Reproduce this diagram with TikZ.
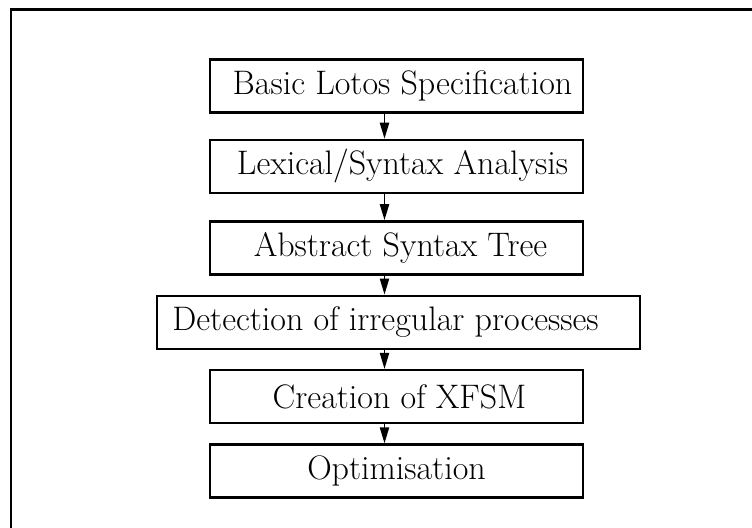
\documentclass[tikz,border=0pt]{standalone}
\usetikzlibrary{positioning,arrows.meta}

\begin{document}
\begin{tikzpicture}[
    node distance=12.5pt,
    stage/.style={rectangle, draw, line width=1.2pt, minimum width=186.5pt, minimum height=26.5pt, inner sep=0pt, align=center, font=\fontsize{17}{20}\selectfont},
    arrow/.style={-{Triangle[length=8pt,width=4.6pt]}, line width=0.8pt}
]
\clip (0,0) rectangle (376pt,-263.5pt);
\draw[line width=1.3pt] (5.5pt,-4.6pt) rectangle (400pt,-300pt);

\node[stage] (basic) at (198.25pt,-43pt) {\hspace*{6pt}Basic Lotos Specification};
\node[stage, below=of basic] (lexical) {\hspace*{6pt}Lexical/Syntax Analysis};
\node[stage, below=13pt of lexical] (ast) {\hspace*{4pt}Abstract Syntax Tree};
\node[stage, below=9.5pt of ast, xshift=1pt, minimum width=241.5pt] (detect) {Detection of irregular processes\hspace*{13pt}};
\node[stage, below=9.5pt of detect, xshift=-1pt] (xfsm) {\hspace*{3pt}Creation of XFSM};
\node[stage, below=9.5pt of xfsm] (optim) {Optimisation};

\draw[arrow] ([xshift=-6pt]basic.south) -- ([xshift=-6pt]lexical.north);
\draw[arrow] ([xshift=-6pt]lexical.south) -- ([xshift=-6pt]ast.north);
\draw[arrow] ([xshift=-6pt]ast.south) -- ([xshift=-7pt]detect.north);
\draw[arrow] ([xshift=-7pt]detect.south) -- ([xshift=-6pt]xfsm.north);
\draw[arrow] ([xshift=-6pt]xfsm.south) -- ([xshift=-6pt]optim.north);
\end{tikzpicture}
\end{document}
